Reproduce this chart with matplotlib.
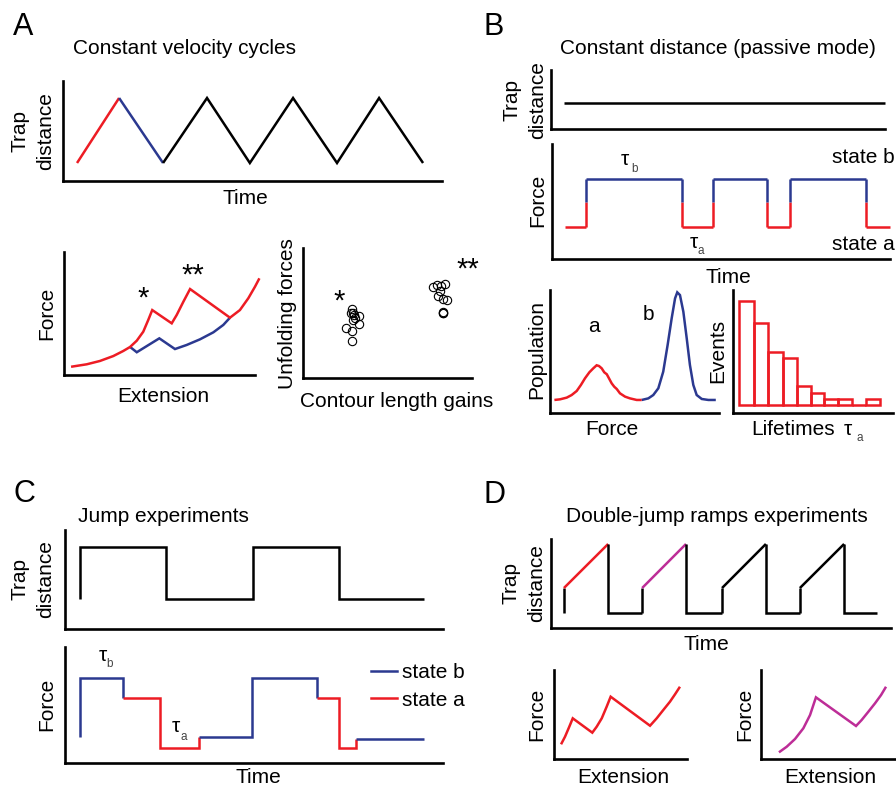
import matplotlib
matplotlib.use('Agg')
import matplotlib.pyplot as plt
from matplotlib.lines import Line2D

plt.rcParams['font.family'] = ['Liberation Sans', 'DejaVu Sans']

W, H = 896, 790
RED, BLUE, MAGENTA, SUBGREY = '#ED1C24', '#2B3990', '#BD2D97', '#444444'
FS, LW, AX_LW = 15, 1.8, 1.9

############################################################################################
# A: constant velocity cycles (all values in arbitrary units, axes span 0-100)
cycle_t = [3.7, 14.8, 26.4, 38.0, 49.3, 60.7, 72.3, 83.4, 95.0]
cycle_d = [18, 83, 18, 83, 18, 83, 18, 83, 18]

# force-extension: unfolding trace (red) and refolding trace (blue)
unfold_ext   = [3.7, 11.9, 18.8, 25.8, 31.0, 34.6, 38.1, 41.5, 44.1, 46.2, 56.4, 59.0, 62.5, 66.0, 86.9, 92.1, 96.5, 100.0, 102.3]
unfold_force = [6.7, 8.7, 11.4, 15.4, 19.5, 22.8, 27.9, 35.2, 44.7, 52.8, 42.0, 48.8, 59.6, 69.9, 46.6, 52.8, 62.4, 71.8, 78.6]
refold_ext   = [34.6, 38.1, 49.9, 58.1, 64.2, 71.2, 78.2, 83.4, 86.9]
refold_force = [22.8, 18.5, 29.8, 21.1, 24.4, 29.0, 34.7, 40.7, 46.6]

# unfolding forces vs contour length gains, two populations
gain_1  = [28.8, 29.4, 28.2, 30.2, 33.3, 30.8, 29.8, 33.1, 25.4, 28.8, 28.8]
force_1 = [52.8, 50.2, 49.8, 48.2, 47.7, 45.9, 44.6, 41.5, 38.7, 36.2, 28.5]
gain_2  = [76.7, 79.1, 81.5, 84.0, 81.1, 80.1, 83.0, 85.0, 82.7, 83.0, 82.7]
force_2 = [70.2, 71.5, 70.8, 72.3, 67.2, 63.1, 60.5, 60.0, 51.0, 49.8, 50.2]

############################################################################################
# B: constant distance (passive mode)
passive_t = [3.9, 100.0]
passive_d = [44, 44]
switch_t    = [3.8, 10.1, 38.5, 47.6, 63.6, 70.4, 92.9, 100.0]
dwell_state = ['a', 'b', 'a', 'b', 'a', 'b', 'a']
force_a, force_b, force_mid = 27.8, 69.6, 49.6

pop_a_force = [2.6, 5.9, 9.9, 12.8, 15.8, 18.3, 20.7, 23.3, 25.6, 27.6, 29.0, 30.6, 32.1, 33.6, 34.9, 36.5, 38.0, 39.5, 41.4, 44.4, 47.3, 51.3, 54.3]
pop_a       = [10.6, 11.1, 12.5, 14.6, 17.9, 22.8, 28.2, 33.1, 36.3, 38.8, 38.2, 36.3, 33.1, 31.5, 28.2, 24.1, 21.4, 19.5, 16.0, 13.3, 11.9, 10.6, 10.6]
pop_b_force = [54.3, 58.2, 61.1, 64.1, 67.0, 69.6, 72.0, 74.0, 75.3, 76.9, 78.9, 80.9, 82.8, 84.8, 86.8, 89.8, 93.7, 98.1]
pop_b       = [10.6, 11.9, 14.6, 20.1, 33.6, 55.3, 77.0, 93.2, 98.1, 95.9, 82.4, 60.7, 39.0, 22.8, 14.6, 11.4, 10.6, 10.6]

life_edges  = [3.9, 13.3, 22.1, 31.1, 39.8, 48.6, 57.1, 65.8, 74.2, 83.1, 91.9]
life_counts = [33, 26, 17, 15, 6, 4, 2, 2, 0, 2]

############################################################################################
# C: jump experiments
jump_t = [4.0, 4.0, 26.7, 26.7, 49.7, 49.7, 72.5, 72.5, 95.0]
jump_d = [30, 83, 83, 30, 30, 83, 83, 30, 30]

jf_b1_t, jf_b1 = [4.0, 4.0, 15.3, 15.3], [22, 73.3, 73.3, 56]
jf_a1_t, jf_a1 = [15.3, 25.1, 25.1, 35.4, 35.4], [56, 56, 12.9, 12.9, 22]
jf_b2_t, jf_b2 = [35.4, 49.5, 49.5, 66.7, 66.7], [22, 22, 73.3, 73.3, 56]
jf_a2_t, jf_a2 = [66.7, 72.5, 72.5, 77.0, 77.0], [56, 56, 12.9, 12.9, 21]
jf_b3_t, jf_b3 = [77.0, 95.0], [21, 21]

############################################################################################
# D: double-jump ramps
ramp_start_t = [3.8, 26.8, 50.3, 73.2]
ramp_end_t   = [16.8, 39.7, 63.2, 86.2]
ramp_colors  = [RED, MAGENTA, 'k', 'k']
ramp_stop_t  = 95.9
d_low, d_mid, d_high = 16.9, 44.9, 94.4

dj_ext_1   = [5.3, 8.3, 11.5, 14.1, 28.8, 32.1, 35.9, 39.6, 42.6, 72.2, 77.2, 82.2, 87.2, 91.0, 94.7]
dj_force_1 = [16.5, 25.1, 36.3, 45.7, 29.6, 36.3, 45.7, 58.8, 70.0, 37.4, 45.7, 55.1, 64.4, 72.7, 81.2]
dj_ext_2   = [13.4, 19.2, 25.4, 31.6, 36.6, 41.0, 70.9, 75.1, 80.1, 85.1, 89.6, 93.3]
dj_force_2 = [7.5, 13.8, 22.5, 34.5, 49.4, 69.3, 37.1, 43.8, 53.1, 62.6, 71.9, 81.2]

############################################################################################
fig = plt.figure(figsize=(W / 100, H / 100), dpi=100)

def panel(x0, y0, x1, y1, ylim=(0, 100)):
    # axes placed by pixel box, only left/bottom spines, no ticks
    ax = fig.add_axes([x0 / W, 1 - y1 / H, (x1 - x0) / W, (y1 - y0) / H])
    ax.set_xlim(0, 100)
    ax.set_ylim(*ylim)
    ax.set_xticks([])
    ax.set_yticks([])
    ax.patch.set_visible(False)
    for side in ('top', 'right'):
        ax.spines[side].set_visible(False)
    for side in ('left', 'bottom'):
        ax.spines[side].set_linewidth(AX_LW)
        ax.spines[side].set_capstyle('projecting')
    return ax

def label(x, y, s, size=FS, **kw):
    kw.setdefault('va', 'baseline')
    return fig.text(x / W, 1 - y / H, s, fontsize=size, **kw)

def ylab(x, y, s):
    return label(x, y, s, rotation=90, ha='center', va='center', multialignment='center', linespacing=1.45)

def line(ax, x, y, c='k', **kw):
    ax.plot(x, y, color=c, lw=LW, clip_on=False, solid_joinstyle='miter', solid_capstyle='butt', **kw)

def tau(x, y, sub, subdx=9, subdy=7):
    label(x, y, 'τ')
    label(x + subdx, y + subdy, sub, size=8.5, color=SUBGREY)

############################################################################################
# A
label(12.5, 35, 'A', size=22)
label(73, 54.5, 'Constant velocity cycles')

ax = panel(63, 81, 442, 181)
line(ax, cycle_t[:2], cycle_d[:2], RED)
line(ax, cycle_t[1:3], cycle_d[1:3], BLUE)
line(ax, cycle_t[2:], cycle_d[2:], 'k')
ylab(33, 131, 'Trap\ndistance')
label(245, 204, 'Time', ha='center')

ax = panel(64, 252, 255, 375)
line(ax, refold_ext, refold_force, BLUE)
line(ax, unfold_ext, unfold_force, RED)
label(143, 307, '*', size=21, ha='center')
label(193, 284, '**', size=21, ha='center')
ylab(47, 313, 'Force')
label(163, 401.7, 'Extension', ha='center')

ax = panel(303, 248, 472, 378)
for g, f in ((gain_1, force_1), (gain_2, force_2)):
    ax.plot(g, f, 'o', ms=6, mfc='none', mec='k', mew=0.8, clip_on=False)
label(339, 310, '*', size=21, ha='center')
label(468, 278, '**', size=21, ha='center')
ylab(287, 314, 'Unfolding forces')
label(397, 406.7, 'Contour length gains', ha='center')

############################################################################################
# B
label(483, 35, 'B', size=22)
label(560, 54.3, 'Constant distance (passive mode)')

ax = panel(551, 70, 885, 129)
line(ax, passive_t, passive_d, 'k')
ylab(525, 100, 'Trap\ndistance')

ax = panel(552, 144, 890, 259)
level = {'a': force_a, 'b': force_b}
for i, st in enumerate(dwell_state):
    line(ax, switch_t[i:i + 2], [level[st]] * 2, RED if st == 'a' else BLUE)
for t in switch_t[1:-1]:
    line(ax, [t, t], [force_a, force_mid], RED)
    line(ax, [t, t], [force_mid, force_b], BLUE)
tau(621, 165, 'b', 10, 7)
tau(690, 248.3, 'a', 8, 6)
label(831.7, 162.7, 'state b')
label(831.7, 250, 'state a')
ylab(538, 200, 'Force')
label(728, 283.3, 'Time', ha='center')

ax = panel(550, 290, 719, 413)
line(ax, pop_a_force, pop_a, RED)
line(ax, pop_b_force, pop_b, BLUE)
label(593.8, 332.3, 'a', ha='center')
label(648.7, 320, 'b', ha='center')
ylab(537, 350, 'Population')
label(611.7, 435, 'Force', ha='center')

ax = panel(733, 290, 893, 413, ylim=(-2.4, 36.4))
widths = [b - a for a, b in zip(life_edges[:-1], life_edges[1:])]
ax.bar(life_edges[:-1], life_counts, width=widths, align='edge', fill=False,
       edgecolor=RED, lw=LW, clip_on=False)
ylab(718, 351, 'Events')
label(751.7, 435, 'Lifetimes')
tau(844, 435, 'a', 12, 6)

############################################################################################
# C
label(13, 501.7, 'C', size=22)
label(78.3, 521.7, 'Jump experiments')

ax = panel(65, 530, 443, 629)
line(ax, jump_t, jump_d, 'k')
ylab(33, 579, 'Trap\ndistance')

ax = panel(65, 647, 443, 763)
line(ax, jf_b1_t, jf_b1, BLUE)
line(ax, jf_a1_t, jf_a1, RED)
line(ax, jf_b2_t, jf_b2, BLUE)
line(ax, jf_a2_t, jf_a2, RED)
line(ax, jf_b3_t, jf_b3, BLUE)
tau(98.3, 661, 'b', 8, 6.3)
tau(171.7, 731.7, 'a', 8.3, 8.3)
handles = [Line2D([], [], color=BLUE, lw=LW), Line2D([], [], color=RED, lw=LW)]
fig.legend(handles, ['state b', 'state a'], loc='upper left', bbox_to_anchor=(371 / W, 1 - 663 / H),
           frameon=False, fontsize=FS, borderpad=0, borderaxespad=0, handlelength=1.25,
           handletextpad=0.25, labelspacing=0.41)
ylab(47, 704, 'Force')
label(258.3, 783.3, 'Time', ha='center')

############################################################################################
# D
label(483.3, 502.7, 'D', size=22)
label(566, 521.7, 'Double-jump ramps experiments')

ax = panel(551, 539, 891, 628)
for i, (t0, t1, c) in enumerate(zip(ramp_start_t, ramp_end_t, ramp_colors)):
    t_next = ramp_start_t[i + 1] if i + 1 < len(ramp_start_t) else ramp_stop_t
    line(ax, [t0, t0], [d_low, d_mid], 'k')
    line(ax, [t0, t1], [d_mid, d_high], c)
    line(ax, [t1, t1, t_next], [d_high, d_low, d_low], 'k')
ylab(524, 583, 'Trap\ndistance')
label(706, 650, 'Time', ha='center')

ax = panel(554, 670, 687, 759)
line(ax, dj_ext_1, dj_force_1, RED)
ylab(537, 714, 'Force')
label(623.3, 783.3, 'Extension', ha='center')

ax = panel(761, 670, 895, 759)
line(ax, dj_ext_2, dj_force_2, MAGENTA)
ylab(745, 714, 'Force')
label(830.5, 783.3, 'Extension', ha='center')

fig.savefig('out.png', dpi=100)
